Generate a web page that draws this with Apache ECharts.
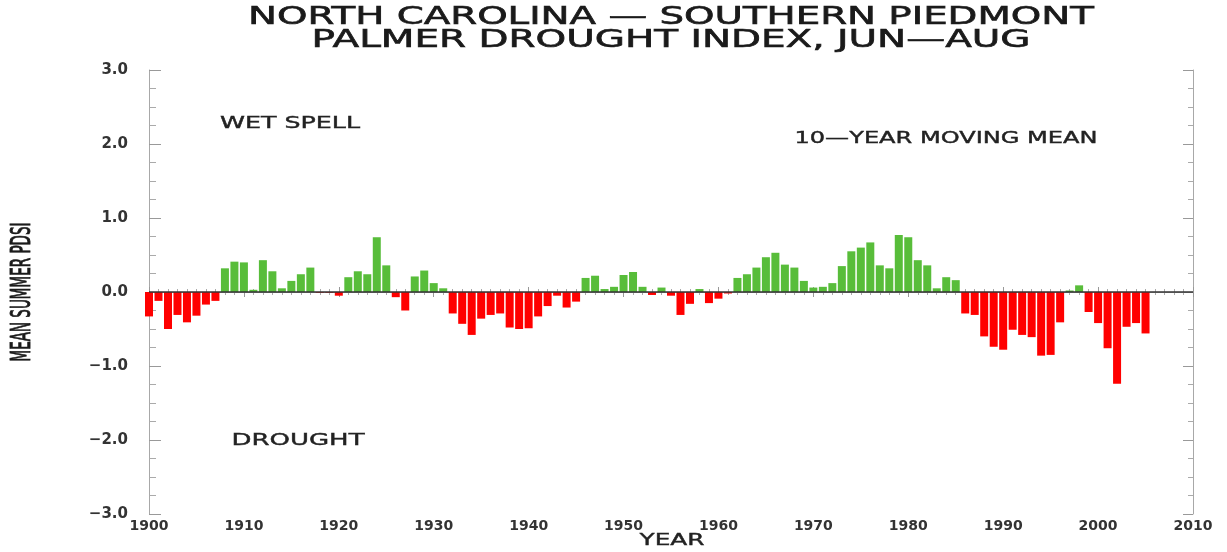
<!DOCTYPE html>
<html>
<head>
<meta charset="utf-8">
<script src="https://cdn.jsdelivr.net/npm/echarts@6/dist/echarts.min.js"></script>
<style>
  html, body { margin: 0; padding: 0; background: #ffffff; }
  #chart { width: 1227px; height: 552px; }
</style>
</head>
<body>
<div id="chart"></div>
<script>
// ---- data ----
const years = [
  1900,1901,1902,1903,1904,1905,1906,1907,1908,1909,
  1910,1911,1912,1913,1914,1915,1916,1917,1918,1919,
  1920,1921,1922,1923,1924,1925,1926,1927,1928,1929,
  1930,1931,1932,1933,1934,1935,1936,1937,1938,1939,
  1940,1941,1942,1943,1944,1945,1946,1947,1948,1949,
  1950,1951,1952,1953,1954,1955,1956,1957,1958,1959,
  1960,1961,1962,1963,1964,1965,1966,1967,1968,1969,
  1970,1971,1972,1973,1974,1975,1976,1977,1978,1979,
  1980,1981,1982,1983,1984,1985,1986,1987,1988,1989,
  1990,1991,1992,1993,1994,1995,1996,1997,1998,1999,
  2000,2001,2002,2003,2004,2005
];
const pdsi = [
  -0.33,-0.12,-0.50,-0.31,-0.41,-0.32,-0.17,-0.12, 0.32, 0.41,
   0.40, 0.03, 0.43, 0.28, 0.05, 0.15, 0.24, 0.33,-0.01,-0.01,
  -0.05, 0.20, 0.28, 0.24, 0.74, 0.36,-0.07,-0.25, 0.21, 0.29,
   0.12, 0.05,-0.29,-0.43,-0.58,-0.36,-0.31,-0.29,-0.48,-0.50,
  -0.49,-0.33,-0.19,-0.05,-0.21,-0.13, 0.19, 0.22, 0.04, 0.07,
   0.23, 0.27, 0.07,-0.04, 0.06,-0.05,-0.31,-0.16, 0.04,-0.15,
  -0.09,-0.02, 0.19, 0.24, 0.33, 0.47, 0.53, 0.37, 0.33, 0.15,
   0.06, 0.07, 0.12, 0.35, 0.55, 0.60, 0.67, 0.36, 0.32, 0.77,
   0.74, 0.43, 0.36, 0.05, 0.20, 0.16,-0.29,-0.31,-0.60,-0.74,
  -0.78,-0.51,-0.58,-0.61,-0.86,-0.85,-0.41, 0.02, 0.09,-0.27,
  -0.42,-0.76,-1.24,-0.47,-0.42,-0.56
];
const xTicks = [1900,1910,1920,1930,1940,1950,1960,1970,1980,1990,2000,2010];
const yTicks = [-3,-2,-1,0,1,2,3];
const titleLines = ['NORTH CAROLINA \u2014 SOUTHERN PIEDMONT', 'PALMER DROUGHT INDEX, JUN\u2014AUG'];
const notes = ['WET SPELL', '10\u2014YEAR MOVING MEAN', 'DROUGHT'];
const yName = 'MEAN SUMMER PDSI';
const xName = 'YEAR';

// ---- helpers ----
const FONT = '"DejaVu Sans", "Liberation Sans", sans-serif';
const ctx = document.createElement('canvas').getContext('2d');
function textWidth(text, size) {
  ctx.font = size + 'px ' + FONT;
  return ctx.measureText(text).width;
}
function fittedText(text, size, cx, cy, targetW, color, strokeW) {
  const s = targetW / textWidth(text, size);
  return {
    type: 'text', x: cx, y: cy, scaleX: s, scaleY: 1,
    style: {
      text: text, fontSize: size, fontFamily: FONT, fill: color,
      stroke: color, lineWidth: strokeW || 0,
      align: 'center', verticalAlign: 'middle',
      textAlign: 'center', textVerticalAlign: 'middle'
    },
    silent: true
  };
}

const chart = echarts.init(document.getElementById('chart'), null, { renderer: 'canvas' });
const green = '#58bd3a';
const red = '#ff0000';
const axisGray = '#a8a8a8';
const labelColor = '#333333';

const gridLeft = 149, gridRight = 34, gridTop = 70, gridBottom = 38;

function fmtY(v) {
  const s = Math.abs(v).toFixed(1);
  return v < 0 ? '\u2212' + s : s;
}

const barData = years.map((y, i) => [y, pdsi[i]]);

const yNameSize = 14;
const yNameLen = textWidth(yName, yNameSize);

const option = {
  animation: false,
  backgroundColor: '#ffffff',
  grid: { left: gridLeft, right: gridRight, top: gridTop, bottom: gridBottom, containLabel: false },
  xAxis: [
    {
      type: 'value', position: 'bottom', min: xTicks[0], max: xTicks[xTicks.length - 1], interval: 10,
      axisLine: { show: true, lineStyle: { color: axisGray, width: 1 } },
      axisTick: { show: true, inside: true, length: 5, lineStyle: { color: '#999' } },
      minorTick: { show: true, splitNumber: 10, length: 3, lineStyle: { color: '#aaa' } },
      splitLine: { show: false },
      axisLabel: { show: true, margin: 5, color: labelColor, fontSize: 14, fontWeight: 'bold', fontFamily: FONT,
                   formatter: v => String(v) }
    },
    {
      type: 'value', position: 'top', min: xTicks[0], max: xTicks[xTicks.length - 1], interval: 10,
      axisLine: { show: true, lineStyle: { color: axisGray, width: 1 } },
      axisTick: { show: true, inside: true, length: 5, lineStyle: { color: '#999' } },
      minorTick: { show: true, splitNumber: 10, length: 3, lineStyle: { color: '#aaa' } },
      splitLine: { show: false },
      axisLabel: { show: false }
    }
  ],
  yAxis: [
    {
      type: 'value', position: 'left', min: yTicks[0], max: yTicks[yTicks.length - 1], interval: 1,
      axisLine: { show: true, lineStyle: { color: axisGray, width: 1 } },
      axisTick: { show: true, inside: true, length: 12, lineStyle: { color: '#999' } },
      minorTick: { show: true, splitNumber: 4, length: 7, lineStyle: { color: '#aaa' } },
      splitLine: { show: false },
      axisLabel: { show: true, margin: 21, color: labelColor, fontSize: 15, fontWeight: 'bold', fontFamily: FONT,
                   formatter: fmtY }
    },
    {
      type: 'value', position: 'right', min: yTicks[0], max: yTicks[yTicks.length - 1], interval: 1,
      axisLine: { show: true, lineStyle: { color: axisGray, width: 1 } },
      axisTick: { show: true, inside: true, length: 10, lineStyle: { color: '#999' } },
      minorTick: { show: true, splitNumber: 4, length: 5, lineStyle: { color: '#aaa' } },
      splitLine: { show: false },
      axisLabel: { show: false }
    }
  ],
  series: [
    {
      type: 'bar',
      xAxisIndex: 0, yAxisIndex: 0,
      data: barData,
      barWidth: 8,
      clip: true,
      itemStyle: { color: p => (p.value[1] >= 0 ? green : red) },
      markLine: {
        silent: true, symbol: 'none',
        label: { show: false },
        lineStyle: { color: '#333333', width: 1.5, type: 'solid' },
        data: [{ yAxis: 0 }]
      }
    }
  ],
  graphic: [
    fittedText(titleLines[0], 24, 671, 18, 846, '#1a1a1a', 0.6),
    fittedText(titleLines[1], 24, 671, 41, 719, '#1a1a1a', 0.6),
    fittedText(notes[0], 16, 290, 124, 140, '#222', 0.4),
    fittedText(notes[1], 16, 946, 139, 303, '#222', 0.4),
    fittedText(notes[2], 16, 298, 441, 133, '#222', 0.4),
    fittedText(xName, 16, 672, 541, 65, '#222', 0.4),
    {
      type: 'text', x: 23, y: 292, rotation: Math.PI / 2,
      scaleX: 139 / yNameLen, scaleY: 1.9,
      style: {
        text: yName, fontSize: yNameSize, fontFamily: FONT, fill: '#1a1a1a',
        stroke: '#1a1a1a', lineWidth: 0.5,
        align: 'center', verticalAlign: 'middle', textAlign: 'center', textVerticalAlign: 'middle'
      },
      silent: true
    }
  ]
};
chart.setOption(option);
</script>
</body>
</html>
